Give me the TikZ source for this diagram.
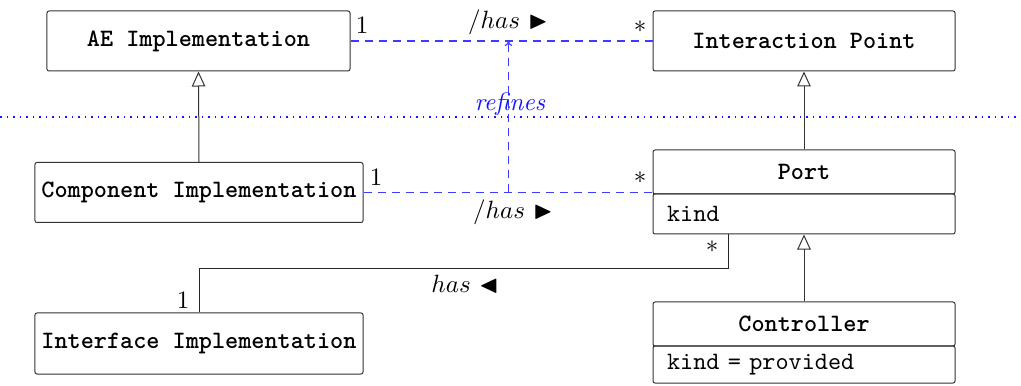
\documentclass[tikz,border=0pt]{standalone}
\usepackage{amssymb}
\usetikzlibrary{arrows.meta}
\definecolor{dashblue}{RGB}{60,60,255}
\definecolor{dotblue}{RGB}{20,20,255}
\tikzset{
  cls/.style={draw=black!80, rounded corners=0.8pt, font=\ttfamily\bfseries, inner sep=0pt, minimum height=24pt},
  attr/.style={draw=black!80, rounded corners=0.8pt, font=\ttfamily, inner xsep=5.6pt, inner ysep=0pt, text width=109.6pt, align=left},
  gen/.style={draw=black!80, -{Triangle[open,length=6pt,width=5.4pt,fill=white]}},
  assoc/.style={draw=dashblue, line width=0.45pt, dash pattern=on 3.2pt off 2.4pt},
  refarrow/.style={draw=dashblue, line width=0.45pt, dash pattern=on 3.2pt off 2.4pt, -{To[length=2pt,width=3pt]}},
  dotline/.style={draw=dotblue, line width=0.8pt, dash pattern=on 0.6pt off 2pt},
  lbl/.style={inner sep=0pt, font=\normalsize}
}
\begin{document}
\begin{tikzpicture}[x=0.4pt,y=-0.4pt]
\useasboundingbox (0,0) rectangle (1021,386);

% classes
\node[cls, minimum width=121.2pt] (ae) at (198.5,41) {AE Implementation};
\node[cls, minimum width=120.8pt] (ip) at (804,41) {Interaction Point};
\node[cls, minimum width=131.2pt] (comp) at (199,192.5) {Component Implementation};
\node[cls, minimum width=131.2pt, minimum height=24.4pt] (iface) at (199,343.5) {Interface Implementation};
\node[cls, minimum width=120.8pt, minimum height=17.6pt] (port) at (804,172) {Port};
\node[attr, minimum height=16pt] (portattr) at (804,214) {kind};
\node[cls, minimum width=120.8pt, minimum height=17.6pt] (ctrl) at (804,324) {Controller};
\node[attr, minimum height=14.8pt] (ctrlattr) at (804,364.5) {kind = provided};

% level separator
\coordinate (sepL) at (0,117.5);
\coordinate (sepR) at (1021,117.5);
\draw[dotline] (sepL) -- (sepR);

% generalizations
\draw[gen] (comp.north) -- (ae.south);
\draw[gen] (port.north) -- (ip.south);
\draw[gen] (ctrl.north) -- (portattr.south);

% associations
\draw[assoc] (ae.east) -- (ip.west);
\draw[assoc] (comp.east) -- (comp.east -| port.west);
\coordinate (rf) at (508.5,192.5);
\draw[refarrow] (rf) -- (rf |- ae.east);

\draw[black!85] ([xshift=-30.4pt]portattr.south) -- ++(0,34) -| (iface.north);

% labels
\node[lbl] (m1) at (362,25) {$1$};
\node[lbl] (m2) at (640,27) {$*$};
\node[lbl] (h1) at (508,22) {$/has$ $\blacktriangleright$};
\node[lbl, text=dotblue] (rl) at (510,104) {\textit{refines}};
\node[lbl] (m3) at (376,177) {$1$};
\node[lbl] (m4) at (640,178) {$*$};
\node[lbl] (h2) at (513,212) {$/has$ $\blacktriangleright$};
\node[lbl] (m5) at (712,247) {$*$};
\node[lbl] (h3) at (465,284) {$has$ $\blacktriangleleft$};
\node[lbl] (m6) at (183,300) {$1$};
\end{tikzpicture}
\end{document}
